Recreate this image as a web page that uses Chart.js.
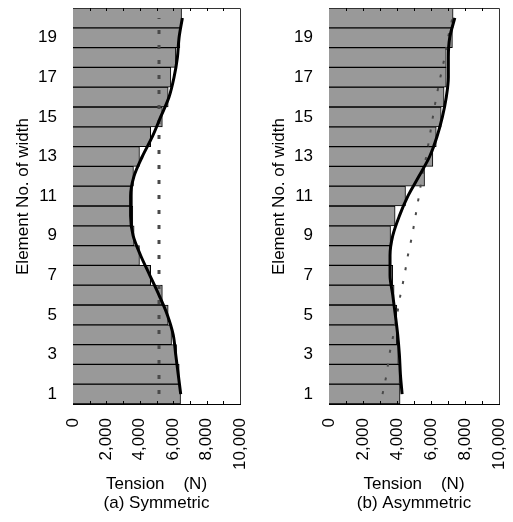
<!DOCTYPE html>
<html>
<head>
<meta charset="utf-8">
<script src="https://cdn.jsdelivr.net/npm/chart.js@4/dist/chart.umd.min.js"></script>
<style>
  html, body { margin: 0; padding: 0; background: #fff; }
  #wrap { position: relative; width: 513px; height: 522px; }
  #leftBox { position: absolute; left: 0; top: 0; width: 256px; height: 522px; }
  #rightBox { position: absolute; left: 256px; top: 0; width: 257px; height: 522px; }
</style>
</head>
<body>
<div id="wrap">
  <div id="leftBox"><canvas id="symChart" width="256" height="522"></canvas></div>
  <div id="rightBox"><canvas id="asymChart" width="257" height="522"></canvas></div>
</div>
<script>
// element numbers across the width (bottom = 1)
const elements = [1, 2, 3, 4, 5, 6, 7, 8, 9, 10, 11, 12, 13, 14, 15, 16, 17, 18, 19, 20];
const xTickValues = [0, 2000, 4000, 6000, 8000, 10000];

// (a) Symmetric
const symBars = [6440, 6360, 6200, 5900, 5700, 5350, 4650, 3980, 3660, 3580,
                 3560, 3620, 3980, 4650, 5350, 5700, 5860, 6160, 6400, 6500];
const symCurve = [6450, 6300, 6150, 6000, 5650, 5150, 4600, 4050, 3600, 3450,
                  3450, 3650, 4150, 4750, 5250, 5750, 6050, 6250, 6350, 6550];
const symDotted = [5150, 5150, 5150, 5150, 5150, 5150, 5150, 5150, 5150, 5150,
                   5150, 5150, 5150, 5150, 5150, 5150, 5150, 5150, 5150, 5150];

// (b) Asymmetric
const asymBars = [4180, 4150, 4080, 3990, 3990, 3830, 3750, 3590, 3620, 3890,
                  4500, 5620, 6110, 6310, 6600, 6770, 6900, 6900, 7260, 7300];
const asymCurve = [4300, 4200, 4140, 4040, 3900, 3750, 3590, 3590, 3750, 4140,
                   4640, 5290, 5920, 6350, 6670, 6900, 7020, 7020, 7100, 7400];
const asymDotted = [3150, 3390, 3550, 3790, 4000, 4200, 4440, 4640, 4890, 5090,
                    5290, 5480, 5720, 5920, 6110, 6310, 6550, 6800, 7000, 7260];

const FONT = "'Liberation Sans', Arial, sans-serif";

// frame on top/right plus small inward ticks every 1000 N
const frameTicks = {
  id: "frameTicks",
  afterDatasetsDraw(chart) {
    const { ctx, chartArea: a, scales } = chart;
    ctx.save();
    ctx.strokeStyle = "#333";
    ctx.lineWidth = 1;
    ctx.beginPath();
    ctx.moveTo(a.left, a.top + 0.5);
    ctx.lineTo(a.right + 0.5, a.top + 0.5);
    ctx.lineTo(a.right + 0.5, a.bottom);
    ctx.stroke();
    ctx.strokeStyle = "#000";
    ctx.beginPath();
    for (let v = 1000; v < 10000; v += 1000) {
      const x = Math.round(scales.x.getPixelForValue(v)) + 0.5;
      ctx.moveTo(x, a.top);
      ctx.lineTo(x, a.top + 3);
      ctx.moveTo(x, a.bottom);
      ctx.lineTo(x, a.bottom - 3);
    }
    ctx.stroke();
    ctx.restore();
  },
};

function makePanel(id, bars, curve, dotted, caption, rightPad, dotWidth, dotDash) {
  const ctx = document.getElementById(id).getContext("2d");
  return new Chart(ctx, {
    type: "bar",
    data: {
      labels: elements,
      datasets: [
        {
          type: "line",
          data: curve,
          indexAxis: "y",
          borderColor: "#000",
          borderWidth: 3,
          pointRadius: 0,
          cubicInterpolationMode: "monotone",
          order: 1,
        },
        {
          type: "line",
          data: dotted,
          indexAxis: "y",
          borderColor: "#4a4a4a",
          borderWidth: dotWidth,
          borderDash: dotDash,
          pointRadius: 0,
          order: 2,
        },
        {
          data: bars,
          backgroundColor: "#999999",
          borderColor: "#000",
          borderWidth: 1,
          barPercentage: 1,
          categoryPercentage: 1,
          order: 3,
        },
      ],
    },
    options: {
      indexAxis: "y",
      responsive: false,
      animation: false,
      layout: { padding: { top: 8, right: rightPad, left: 0, bottom: 0 } },
      plugins: { legend: { display: false }, tooltip: { enabled: false } },
      scales: {
        x: {
          min: 0,
          max: 10000,
          afterFit: (s) => { s.height = 118; s.paddingLeft = 0; s.paddingRight = 0; },
          afterBuildTicks: (s) => { s.ticks = xTickValues.map((v) => ({ value: v })); },
          grid: { display: false },
          border: { display: true, color: "#000", width: 1 },
          ticks: {
            autoSkip: false,
            minRotation: 90,
            maxRotation: 90,
            padding: 6,
            color: "#000",
            font: { family: FONT, size: 17 },
            callback: (v) => v.toLocaleString("en-US"),
          },
          title: {
            display: true,
            text: ["Tension    (N)", caption],
            color: "#000",
            font: { family: FONT, size: 17, lineHeight: 1.12 },
            padding: { top: 0, bottom: 9 },
          },
        },
        y: {
          reverse: true,
          afterFit: (s) => { s.width = 73; s.paddingTop = 0; s.paddingBottom = 0; },
          grid: { display: false },
          border: { display: true, color: "#000", width: 1 },
          ticks: {
            autoSkip: false,
            padding: 8,
            color: "#000",
            font: { family: FONT, size: 17 },
            callback: function (v, i) { return i % 2 === 0 ? this.getLabelForValue(v) : ""; },
          },
          title: {
            display: true,
            // leading blanks nudge the centred title a little upward, as in the original
            text: "    Element No. of width",
            color: "#000",
            font: { family: FONT, size: 17 },
            padding: { top: 13, bottom: 0 },
          },
        },
      },
    },
    plugins: [frameTicks],
  });
}

document.addEventListener("DOMContentLoaded", () => {
  makePanel("symChart", symBars, symCurve, symDotted, "(a) Symmetric", 16, 3, [4, 11]);
  makePanel("asymChart", asymBars, asymCurve, asymDotted, "(b) Asymmetric", 14, 2, [3, 11]);
});
</script>
</body>
</html>
